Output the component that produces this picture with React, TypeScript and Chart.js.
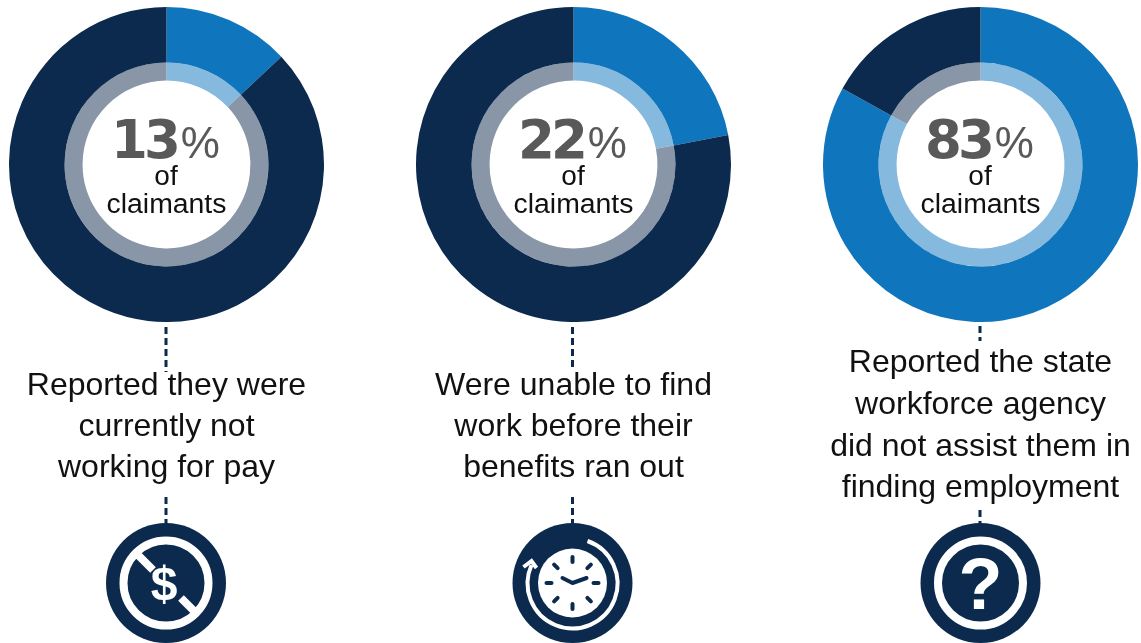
import React, { useEffect, useRef } from "react";
import { Chart, registerables } from "chart.js";

Chart.register(...registerables);

// Survey shares, in percent of claimants
const categories = ["Share", "Remainder"];
const shares = [13, 22, 83];
const remainders = [87, 78, 17];
const captions = [
  ["Reported they were", "currently not", "working for pay"],
  ["Were unable to find", "work before their", "benefits ran out"],
  ["Reported the state", "workforce agency", "did not assist them in", "finding employment"],
];

const NAVY = "#0b2a4d";
const BLUE = "#0f75bc";
const PALE_BLUE = "#86b9de";
const GREY_BLUE = "#8996a8";
const TEXT_FONT = '"Liberation Sans", Arial, sans-serif';

const centers = [166.5, 573.5, 980.5];
const DONUT_SIZE = 315;
const DONUT_TOP = 7;

function Donut({ index }: { index: number }) {
  const ref = useRef<HTMLCanvasElement>(null);
  useEffect(() => {
    const chart = new Chart(ref.current!, {
      type: "doughnut",
      data: {
        labels: categories,
        datasets: [
          {
            data: [shares[index], remainders[index]],
            backgroundColor: [BLUE, NAVY],
            borderWidth: 0,
            weight: 55.5,
          },
          {
            data: [shares[index], remainders[index]],
            backgroundColor: [PALE_BLUE, GREY_BLUE],
            borderWidth: 0,
            weight: 18,
          },
        ],
      },
      options: {
        responsive: false,
        animation: false,
        cutout: "53.3%",
        layout: { padding: 0 },
        plugins: { legend: { display: false }, tooltip: { enabled: false } },
      },
    });
    return () => chart.destroy();
  }, [index]);
  return (
    <canvas
      ref={ref}
      width={DONUT_SIZE}
      height={DONUT_SIZE}
      style={{
        position: "absolute",
        left: centers[index] - DONUT_SIZE / 2,
        top: DONUT_TOP,
        width: DONUT_SIZE,
        height: DONUT_SIZE,
      }}
    />
  );
}

function Centered({
  x,
  y,
  size,
  children,
  color = "#111",
}: {
  x: number;
  y: number;
  size: number;
  children: React.ReactNode;
  color?: string;
}) {
  return (
    <div
      style={{
        position: "absolute",
        left: x - 200,
        width: 400,
        top: y - size,
        height: size * 2,
        lineHeight: `${size * 2}px`,
        fontSize: size,
        textAlign: "center",
        whiteSpace: "nowrap",
        color,
        fontFamily: TEXT_FONT,
      }}
    >
      {children}
    </div>
  );
}

function Dashes({ x, y1, y2 }: { x: number; y1: number; y2: number }) {
  return (
    <line x1={x} x2={x} y1={y1} y2={y2} stroke={NAVY} strokeWidth={3} strokeDasharray="7 4" />
  );
}

const ICON_CY = 583;

function NoPayIcon({ cx }: { cx: number }) {
  return (
    <g>
      <circle cx={cx} cy={ICON_CY} r={60} fill={NAVY} />
      <circle cx={cx} cy={ICON_CY} r={42.5} fill="none" stroke="#fff" strokeWidth={8} />
      <line x1={cx - 28} y1={ICON_CY - 28} x2={cx - 13} y2={ICON_CY - 13} stroke="#fff" strokeWidth={8} />
      <line x1={cx + 15} y1={ICON_CY + 15} x2={cx + 28} y2={ICON_CY + 28} stroke="#fff" strokeWidth={8} />
      <text
        x={cx - 2}
        y={ICON_CY + 17}
        textAnchor="middle"
        fontFamily={TEXT_FONT}
        fontWeight={700}
        fontSize={48}
        fill="#fff"
      >
        $
      </text>
    </g>
  );
}

function ClockIcon({ cx }: { cx: number }) {
  const ticks = [0, 45, 90, 135, 180, 225, 270, 315];
  return (
    <g>
      <circle cx={cx} cy={ICON_CY} r={60} fill={NAVY} />
      <circle cx={cx} cy={ICON_CY} r={34.5} fill="#fff" />
      {ticks.map((a) => (
        <line
          key={a}
          x1={cx}
          x2={cx}
          y1={ICON_CY - 26}
          y2={ICON_CY - 21}
          stroke={NAVY}
          strokeWidth={4}
          strokeLinecap="round"
          transform={`rotate(${a} ${cx} ${ICON_CY})`}
        />
      ))}
      <polyline
        points={`${cx - 10},${ICON_CY - 5} ${cx},${ICON_CY} ${cx + 14},${ICON_CY - 5}`}
        fill="none"
        stroke={NAVY}
        strokeWidth={4}
        strokeLinecap="round"
        strokeLinejoin="round"
      />
      <path
        d={`M ${cx + 15} ${ICON_CY - 42} A 45 45 0 1 1 ${cx - 41} ${ICON_CY - 18}`}
        fill="none"
        stroke="#fff"
        strokeWidth={4}
      />
      <polyline
        points={`${cx - 49},${ICON_CY - 16} ${cx - 41},${ICON_CY - 22} ${cx - 36},${ICON_CY - 15}`}
        fill="none"
        stroke="#fff"
        strokeWidth={4}
      />
    </g>
  );
}

function QuestionIcon({ cx }: { cx: number }) {
  return (
    <g>
      <circle cx={cx} cy={ICON_CY} r={60} fill={NAVY} />
      <circle cx={cx} cy={ICON_CY} r={42.5} fill="none" stroke="#fff" strokeWidth={8} />
      <text
        x={cx}
        y={ICON_CY + 26}
        textAnchor="middle"
        fontFamily={TEXT_FONT}
        fontWeight={700}
        fontSize={72}
        fill="#fff"
      >
        ?
      </text>
    </g>
  );
}

const captionRows = [
  [384, 425, 466],
  [384, 425, 466],
  [361, 403, 445, 486],
];

export default function App() {
  return (
    <div
      style={{
        position: "fixed",
        left: 0,
        top: 0,
        width: 1141,
        height: 643,
        overflow: "hidden",
        background: "#fff",
      }}
    >
      {shares.map((_, i) => (
        <Donut key={i} index={i} />
      ))}
      <svg width={1141} height={643} style={{ position: "absolute", left: 0, top: 0 }}>
        <Dashes x={166} y1={327} y2={372} />
        <Dashes x={166} y1={497} y2={524} />
        <Dashes x={572.5} y1={327} y2={368} />
        <Dashes x={572.5} y1={497} y2={524} />
        <Dashes x={980} y1={326} y2={341} />
        <Dashes x={980} y1={510} y2={524} />
        <NoPayIcon cx={166} />
        <ClockIcon cx={572.5} />
        <QuestionIcon cx={980.5} />
      </svg>
      {shares.map((value, i) => (
        <React.Fragment key={i}>
          <Centered x={centers[i] - 1} y={140} size={53} color="#595959">
            <span
              style={{
                fontFamily: '"DejaVu Sans", sans-serif',
                fontWeight: 700,
                letterSpacing: "-4px",
                marginRight: 4,
              }}
            >
              {value}
            </span>
            <span style={{ fontSize: 44 }}>%</span>
          </Centered>
          <Centered x={centers[i] - 0.5} y={176} size={28}>
            of
          </Centered>
          <Centered x={centers[i]} y={203} size={28.4}>
            claimants
          </Centered>
          {captions[i].map((line, j) => (
            <Centered key={j} x={centers[i]} y={captionRows[i][j]} size={32}>
              {line}
            </Centered>
          ))}
        </React.Fragment>
      ))}
    </div>
  );
}
